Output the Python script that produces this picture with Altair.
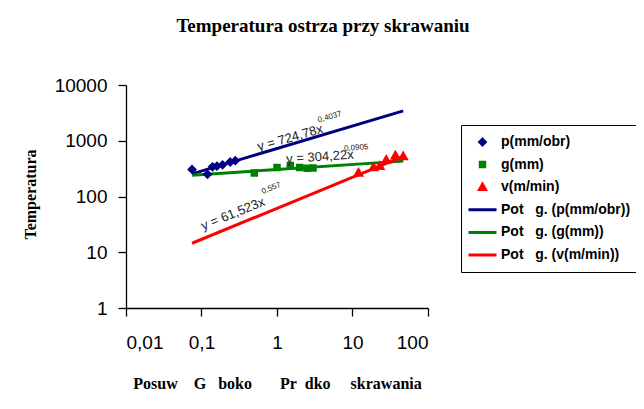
import altair as alt
import pandas as pd

# Measured points
p_x = [0.075, 0.12, 0.14, 0.16, 0.19, 0.24, 0.28]
p_y = [305, 250, 340, 350, 370, 415, 440]
g_x = [0.5, 1.0, 1.5, 2.0, 2.5, 3.0]
g_y = [265, 330, 360, 330, 320, 325]
v_x = [12, 19, 23, 28, 37, 47]
v_y = [265, 330, 350, 450, 540, 520]

# Trendline end points (power fits, straight in log-log)
fit_x = [0.075, 47]
fit_p = [255, 3430]
fit_g = [241, 431]
fit_v = [14.5, 525]

NB = "\u00a0"
series_pts = ["p(mm/obr)", "g(mm)", "v(m/min)"]
series_fit = [f"Pot{NB*3}g. (p(mm/obr))", f"Pot{NB*3}g. (g(mm))", f"Pot{NB*3}g. (v(m/min))"]
all_series = series_pts + series_fit
colors = ["#000080", "#008000", "#FF0000", "#000080", "#008000", "#FF0000"]
DIAMOND = "M0,-0.2L0.2,0L0,0.2L-0.2,0Z"
SQUARE = "M-0.16,-0.16H0.16V0.16H-0.16Z"
TRIANGLE = "M0,-0.21L0.21,0.16L-0.21,0.16Z"
shapes = [DIAMOND, SQUARE, TRIANGLE, "stroke", "stroke", "stroke"]

x_ticks = [0.01, 0.1, 1, 10, 100]
y_ticks = [1, 10, 100, 1000, 10000]

# equation labels
eq_main = ["y = 724,78x", "y = 304,22x", "y = 61,523x"]
eq_main_x = [1.49, 3.71, 0.261]
eq_main_y = [1127, 514, 48.7]
eq_main_angle = [344, 356, 338]
eq_sup = ["0,4037", "0,0905", "0,557"]
eq_sup_x = [5.0, 11.2, 0.84]
eq_sup_y = [2650, 740, 140]

rows = []
for s, xs, ys in zip(series_pts, [p_x, g_x, v_x], [p_y, g_y, v_y]):
    for a, b in zip(xs, ys):
        rows.append({"x": a, "y": b, "series": s})
pts = pd.DataFrame(rows)

frows = []
for s, ys in zip(series_fit, [fit_p, fit_g, fit_v]):
    for a, b in zip(fit_x, ys):
        frows.append({"x": a, "y": b, "series": s})
fits = pd.DataFrame(frows)

main_df = pd.DataFrame({"x": eq_main_x, "y": eq_main_y, "t": eq_main, "a": eq_main_angle})
sup_df = pd.DataFrame({"x": eq_sup_x, "y": eq_sup_y, "t": eq_sup, "a": eq_main_angle})

xscale = alt.Scale(type="log", domain=[0.01, 100])
yscale = alt.Scale(type="log", domain=[1, 10000])

xax = alt.Axis(values=x_ticks, labelExpr="replace(toString(datum.value), '.', ',')",
               title=f"Posuw{NB*4}G{NB*3}boko{NB*7}Pr{NB*2}dko{NB*5}skrawania",
               titleFont="Liberation Serif", titleFontSize=16, titleFontWeight="bold",
               titleY=80, titleBaseline="alphabetic", grid=False, labelPadding=17)
yax = alt.Axis(values=y_ticks, labelExpr="toString(datum.value)", title="Temperatura",
               titleFont="Liberation Serif", titleFontSize=16, titleFontWeight="bold",
               titleX=-96, titleY=109, titleAngle=270, titleBaseline="middle", titleAlign="center",
               grid=False, labelPadding=11)

color_enc = alt.Color("series:N", scale=alt.Scale(domain=all_series, range=colors),
                      legend=alt.Legend(title=None, orient="none", legendX=335, legendY=40,
                                        strokeColor="black", padding=6,
                                        labelFont="Liberation Sans", labelFontSize=14,
                                        labelFontWeight="bold", labelColor="black",
                                        symbolStrokeWidth=3, rowPadding=0.6, clipHeight=22,
                                        labelOffset=3, symbolSize=784, symbolOpacity=1))
shape_enc = alt.Shape("series:N", scale=alt.Scale(domain=all_series, range=shapes))

fit_layer = alt.Chart(fits).mark_line(strokeWidth=3, clip=False).encode(
    x=alt.X("x:Q", scale=xscale, axis=xax),
    y=alt.Y("y:Q", scale=yscale, axis=yax),
    color=color_enc,
    detail="series:N",
)

pt_layer = alt.Chart(pts).mark_point(filled=True, opacity=1, clip=False, size=784,
                                     strokeWidth=3).encode(
    x=alt.X("x:Q", scale=xscale),
    y=alt.Y("y:Q", scale=yscale),
    color=color_enc,
    stroke=alt.Stroke("series:N", scale=alt.Scale(domain=all_series, range=colors), legend=None),
    shape=shape_enc,
)

main_txt = alt.Chart(main_df).mark_text(font="Liberation Sans", fontSize=13, color="#202020").encode(
    x="x:Q", y="y:Q", text="t:N", angle=alt.Angle("a:Q", scale=None))
sup_txt = alt.Chart(sup_df).mark_text(font="Liberation Sans", fontSize=8, color="#202020").encode(
    x="x:Q", y="y:Q", text="t:N", angle=alt.Angle("a:Q", scale=None))

chart = alt.layer(fit_layer, pt_layer, main_txt, sup_txt).properties(
    width=302, height=223,
    title=alt.TitleParams("Temperatura ostrza przy skrawaniu", font="Liberation Serif",
                          fontSize=19, fontWeight="bold", color="black", dx=46, offset=40),
    autosize=alt.AutoSizeParams(type="none"),
    padding={"left": 118, "top": 77, "right": 208, "bottom": 93},
).configure(background="white").configure_view(stroke=None).configure_axis(
    grid=False, domainColor="black", tickColor="black", tickSize=8, domainWidth=1.3,
    tickWidth=1.3, labelFont="Liberation Sans", labelFontSize=19, labelColor="black",
    titleColor="black",
)

chart.save("out.html", embed_options={"renderer": "svg", "actions": False})
